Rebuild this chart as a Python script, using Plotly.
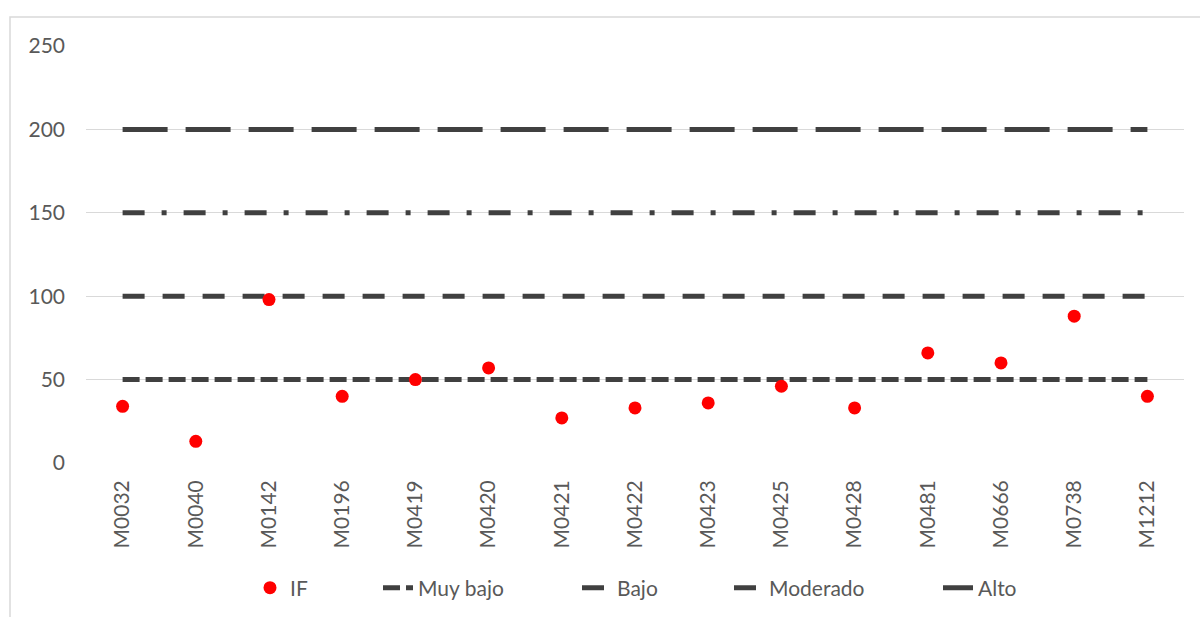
import plotly.graph_objects as go

# Sample codes on the category axis
codes = ["M0032", "M0040", "M0142", "M0196", "M0419", "M0420", "M0421", "M0422",
         "M0423", "M0425", "M0428", "M0481", "M0666", "M0738", "M1212"]

# Measured IF per sample
if_values = [34, 13, 98, 40, 50, 57, 27, 33, 36, 46, 33, 66, 60, 88, 40]

# Threshold levels
level_names = ["Muy bajo", "Bajo", "Moderado", "Alto"]
level_values = [50, 100, 150, 200]

y_ticks = [0, 50, 100, 150, 200, 250]

FONT = "Lato"
TEXT_COLOR = "#595959"
LINE_COLOR = "#404040"
GRID_COLOR = "#d9d9d9"

W, H = 1200, 617
# plot area in pixels
PL, PR, PT, PB = 86, 1184, 46, 463

dash_styles = {
    "Muy bajo": "17px,6px",
    "Bajo": "22px,18px",
    "Moderado": "22px,17px,5px,17px",
    "Alto": "45px,18px",
}

# legend text start positions (px) for each entry
legend_text_x = {"IF": 290, "Muy bajo": 418, "Bajo": 617, "Moderado": 769, "Alto": 978}
legend_keys = {"IF": "legend", "Muy bajo": "legend2", "Bajo": "legend3",
               "Moderado": "legend4", "Alto": "legend5"}

fig = go.Figure()

for name, val in zip(level_names, level_values):
    fig.add_trace(go.Scatter(
        x=codes, y=[val] * len(codes), mode="lines", name=name,
        line=dict(color=LINE_COLOR, width=5, dash=dash_styles[name]),
        legend=legend_keys[name], hoverinfo="skip",
    ))

fig.add_trace(go.Scatter(
    x=codes, y=if_values, mode="markers", name="IF",
    marker=dict(color="#ff0000", size=13, line=dict(width=0)),
    legend=legend_keys["IF"],
))

legend_y = 1 - 588 / H
layout_legends = {}
for name, key in legend_keys.items():
    layout_legends[key] = dict(
        xref="container", yref="container",
        x=(legend_text_x[name] - 40) / W, y=legend_y,
        xanchor="left", yanchor="middle",
        orientation="h", bgcolor="rgba(0,0,0,0)",
        font=dict(family=FONT, size=21, color=TEXT_COLOR),
    )

fig.update_layout(
    width=W, height=H,
    margin=dict(l=PL, r=W - PR, t=PT, b=H - PB),
    paper_bgcolor="white", plot_bgcolor="white",
    showlegend=True,
    font=dict(family=FONT, color=TEXT_COLOR),
    **layout_legends,
)

fig.update_xaxes(
    type="category", range=[-0.5, len(codes) - 0.5],
    showgrid=False, zeroline=False, showline=False, ticks="",
    tickangle=-90, tickfont=dict(family=FONT, size=21, color=TEXT_COLOR),
    ticklabelstandoff=12,
)
fig.update_yaxes(
    range=[0, 250], tickvals=y_ticks, showgrid=True, gridcolor=GRID_COLOR,
    gridwidth=1.3, zeroline=False, showline=False, ticks="",
    tickfont=dict(family=FONT, size=21, color=TEXT_COLOR),
    ticklabelstandoff=20,
)

# outer chart frame
fig.add_shape(
    type="rect", xref="paper", yref="paper",
    x0=(10 - PL) / (PR - PL), x1=(W + 5 - PL) / (PR - PL),
    y0=(PB - (H + 5)) / (PB - PT), y1=(PB - 17) / (PB - PT),
    line=dict(color=GRID_COLOR, width=1.5), fillcolor="rgba(0,0,0,0)",
    layer="below",
)

fig.write_html("out.html")
